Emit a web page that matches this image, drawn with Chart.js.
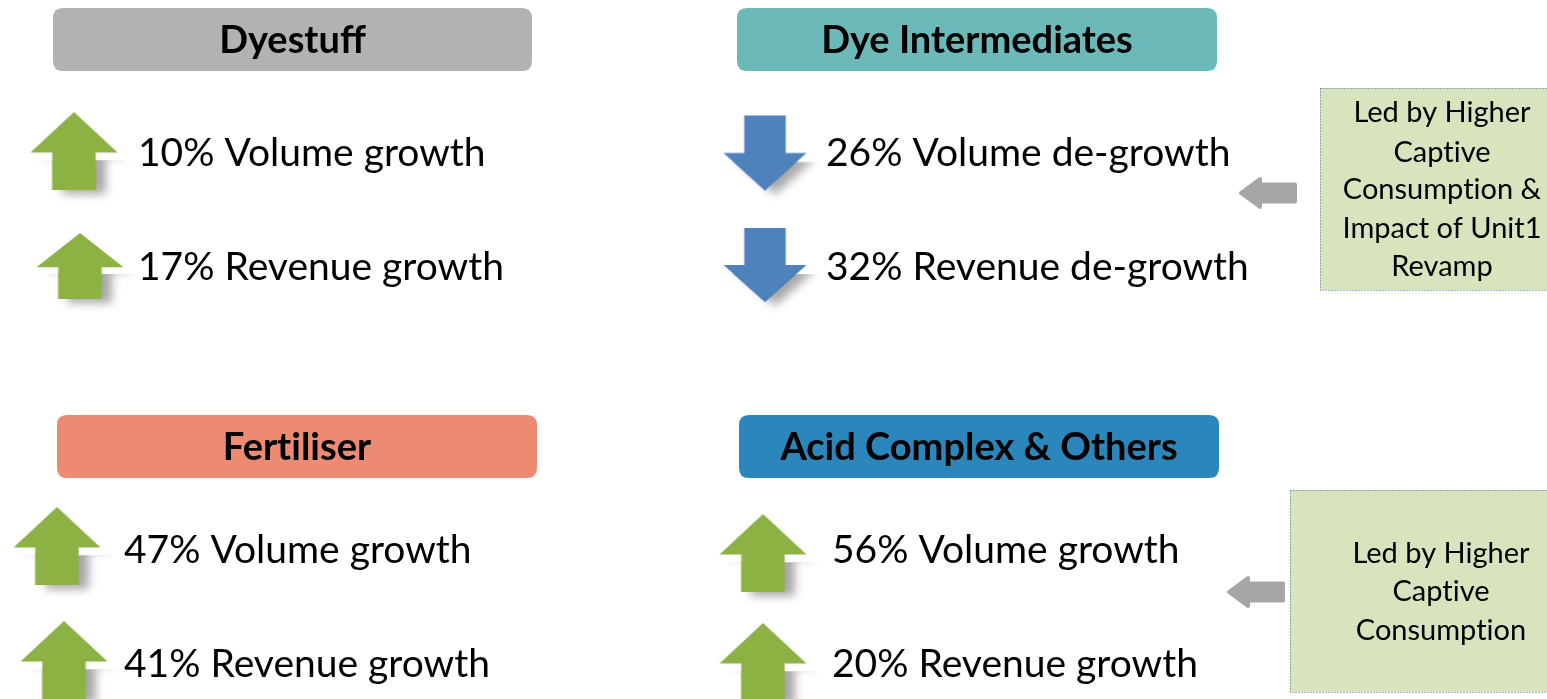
<!DOCTYPE html>
<html>
<head>
<meta charset="utf-8">
<script src="https://cdn.jsdelivr.net/npm/chart.js@4.4.1/dist/chart.umd.min.js"></script>
<style>
  html, body { margin: 0; padding: 0; background: #fff; overflow: hidden; }
  canvas { display: block; }
</style>
</head>
<body>
<canvas id="segmentChart" width="1547" height="699"></canvas>
<script>
// ---- data ----
const segments = ['Dyestuff', 'Dye Intermediates', 'Fertiliser', 'Acid Complex & Others'];
const metricNames = ['Volume', 'Revenue'];
const volumeChange = [10, -26, 47, 56];
const revenueChange = [17, -32, 41, 20];
const notes = [
    null,
    ['Led by Higher', 'Captive', 'Consumption &', 'Impact of Unit1', 'Revamp'],
    null,
    ['Led by Higher', 'Captive', 'Consumption']
];

// ---- layout & styles (scale units are pixels) ----
const headerColors = ['#b2b2b2', '#6cb9b9', '#ec8a72', '#2a86bb'];
const panels = [
    { box: [53, 8, 532, 71],    arrowX: [74, 80],   arrowY: [151, 266], arrowH: [78, 66], textX: 138, textY: [153, 267] },
    { box: [737, 8, 1217, 71],  arrowX: [765, 765], arrowY: [153, 265], arrowH: [75, 74], textX: 826, textY: [153, 267] },
    { box: [57, 415, 537, 478], arrowX: [57, 64],   arrowY: [546, 660], arrowH: [78, 78], textX: 124, textY: [550, 664] },
    { box: [739, 415, 1219, 478], arrowX: [763, 763], arrowY: [553, 662], arrowH: [78, 78], textX: 832, textY: [550, 664] }
];
const noteLayout = [
    null,
    { box: [1320, 88, 1570, 290], cx: 1442, lineY: [113, 153, 190, 229, 267], arrow: [1268, 193] },
    null,
    { box: [1290, 490, 1570, 692], cx: 1441, lineY: [554, 592, 631], arrow: [1256, 592] }
];
const upColor = '#8db244';
const downColor = '#4f81bd';
const fontFamily = 'Lato, "Open Sans", sans-serif';

const arrowCache = {};

function blockArrow(w, h, color, down) {
    const key = [w, h, color, down].join('|');
    if (arrowCache[key]) return arrowCache[key];
    const pad = 20;
    const c = document.createElement('canvas');
    c.width = w + pad * 2;
    c.height = h + pad * 2;
    const g = c.getContext('2d');
    g.translate(pad, pad);

    const shape = () => {
        g.beginPath();
        if (!down) {
            g.moveTo(w / 2, 0);
            g.lineTo(w, h * 0.52);
            g.lineTo(w * 0.75, h * 0.52);
            g.lineTo(w * 0.75, h);
            g.lineTo(w * 0.25, h);
            g.lineTo(w * 0.25, h * 0.52);
            g.lineTo(0, h * 0.52);
        } else {
            g.moveTo(w * 0.25, 0);
            g.lineTo(w * 0.75, 0);
            g.lineTo(w * 0.75, h * 0.5);
            g.lineTo(w, h * 0.5);
            g.lineTo(w / 2, h);
            g.lineTo(0, h * 0.5);
            g.lineTo(w * 0.25, h * 0.5);
        }
        g.closePath();
    };

    // soft shadow near the bottom only
    g.save();
    g.beginPath();
    g.rect(-pad, h * 0.62, w + pad * 2, h * 0.38 + pad);
    g.clip();
    g.shadowColor = 'rgba(0,0,0,0.35)';
    g.shadowBlur = 10;
    g.shadowOffsetX = 10;
    g.shadowOffsetY = 4;
    g.fillStyle = color;
    shape();
    g.fill();
    g.restore();

    g.fillStyle = color;
    shape();
    g.fill();

    arrowCache[key] = c;
    return c;
}

function leftArrow() {
    if (arrowCache.left) return arrowCache.left;
    const w = 54, h = 28, pad = 4;
    const c = document.createElement('canvas');
    c.width = w + pad * 2;
    c.height = h + pad * 2;
    const g = c.getContext('2d');
    g.translate(pad, pad);
    g.fillStyle = '#a6a6a6';
    g.strokeStyle = '#a6a6a6';
    g.lineWidth = 4;
    g.lineJoin = 'round';
    g.beginPath();
    g.moveTo(0, h / 2);
    g.lineTo(19, 0);
    g.lineTo(19, h * 0.2);
    g.lineTo(w, h * 0.2);
    g.lineTo(w, h * 0.8);
    g.lineTo(19, h * 0.8);
    g.lineTo(19, h);
    g.closePath();
    g.fill();
    g.stroke();
    arrowCache.left = c;
    return c;
}

// one point per metric per segment
const changePoints = [];
segments.forEach((seg, i) => {
    [volumeChange[i], revenueChange[i]].forEach((v, r) => {
        changePoints.push({
            x: panels[i].arrowX[r],
            y: panels[i].arrowY[r],
            value: v,
            seg: i,
            row: r
        });
    });
});

const driverPoints = [];
notes.forEach((n, i) => {
    if (n) driverPoints.push({ x: noteLayout[i].arrow[0], y: noteLayout[i].arrow[1] });
});

function roundRect(ctx, x0, y0, x1, y1, r) {
    ctx.beginPath();
    ctx.moveTo(x0 + r, y0);
    ctx.lineTo(x1 - r, y0);
    ctx.quadraticCurveTo(x1, y0, x1, y0 + r);
    ctx.lineTo(x1, y1 - r);
    ctx.quadraticCurveTo(x1, y1, x1 - r, y1);
    ctx.lineTo(x0 + r, y1);
    ctx.quadraticCurveTo(x0, y1, x0, y1 - r);
    ctx.lineTo(x0, y0 + r);
    ctx.quadraticCurveTo(x0, y0, x0 + r, y0);
    ctx.closePath();
}

// Lato joins "ti" into a ligature; draw the pieces separately to keep the letters apart
function fillPlain(ctx, text, x, y, align) {
    const parts = text.split(/(?<=t)(?=i)/);
    const widths = parts.map(p => ctx.measureText(p).width);
    const total = widths.reduce((a, b) => a + b, 0);
    let cx = align === 'center' ? x - total / 2 : x;
    ctx.textAlign = 'left';
    parts.forEach((p, k) => {
        ctx.fillText(p, cx, y);
        cx += widths[k];
    });
}

const panelPlugin = {
    id: 'panelPlugin',
    beforeDatasetsDraw(chart) {
        const ctx = chart.ctx;
        const xs = chart.scales.x, ys = chart.scales.y;
        ctx.save();
        ctx.textBaseline = 'middle';
        notes.forEach((lines, i) => {
            if (!lines) return;
            const nl = noteLayout[i];
            const x0 = xs.getPixelForValue(nl.box[0]), y0 = ys.getPixelForValue(nl.box[1]);
            const x1 = xs.getPixelForValue(nl.box[2]), y1 = ys.getPixelForValue(nl.box[3]);
            ctx.fillStyle = '#d8e4bd';
            ctx.fillRect(x0, y0, x1 - x0, y1 - y0);
            ctx.strokeStyle = '#4a6fa5';
            ctx.lineWidth = 1;
            ctx.setLineDash([1, 2]);
            ctx.strokeRect(x0 + 0.5, y0 + 0.5, x1 - x0, y1 - y0);
            ctx.setLineDash([]);
            ctx.fillStyle = '#000';
            ctx.font = '29px ' + fontFamily;
            lines.forEach((t, k) => {
                fillPlain(ctx, t, xs.getPixelForValue(nl.cx), ys.getPixelForValue(nl.lineY[k]), 'center');
            });
        });

        segments.forEach((seg, i) => {
            const p = panels[i];
            const x0 = xs.getPixelForValue(p.box[0]), y0 = ys.getPixelForValue(p.box[1]);
            const x1 = xs.getPixelForValue(p.box[2]), y1 = ys.getPixelForValue(p.box[3]);
            ctx.fillStyle = headerColors[i];
            roundRect(ctx, x0, y0, x1, y1, 10);
            ctx.fill();
            ctx.fillStyle = '#000';
            ctx.font = 'bold 38px ' + fontFamily;
            fillPlain(ctx, seg, (x0 + x1) / 2, (y0 + y1) / 2 + 1, 'center');
        });

        ctx.font = '39px ' + fontFamily;
        changePoints.forEach(pt => {
            const p = panels[pt.seg];
            const label = Math.abs(pt.value) + '% ' + metricNames[pt.row] + ' ' +
                (pt.value < 0 ? 'de-growth' : 'growth');
            fillPlain(ctx, label, xs.getPixelForValue(p.textX), ys.getPixelForValue(p.textY[pt.row]), 'left');
        });
        ctx.restore();
    }
};

const ctx = document.getElementById('segmentChart').getContext('2d');
new Chart(ctx, {
    type: 'scatter',
    data: {
        datasets: [
            {
                label: 'Change',
                data: changePoints,
                pointRadius: 5,
                pointStyle: c => {
                    const raw = c.raw;
                    if (!raw) return 'circle';
                    const down = raw.value < 0;
                    const w = down ? 83 : 87;
                    return blockArrow(w, panels[raw.seg].arrowH[raw.row], down ? downColor : upColor, down);
                }
            },
            {
                label: 'Driver',
                data: driverPoints,
                pointRadius: 5,
                pointStyle: leftArrow()
            }
        ]
    },
    options: {
        responsive: false,
        animation: false,
        events: [],
        layout: { padding: 0, autoPadding: false },
        scales: {
            x: { type: 'linear', min: 0, max: 1547, display: false },
            y: { type: 'linear', min: 0, max: 699, reverse: true, display: false }
        },
        plugins: {
            legend: { display: false },
            tooltip: { enabled: false }
        }
    },
    plugins: [panelPlugin]
});
</script>
</body>
</html>
